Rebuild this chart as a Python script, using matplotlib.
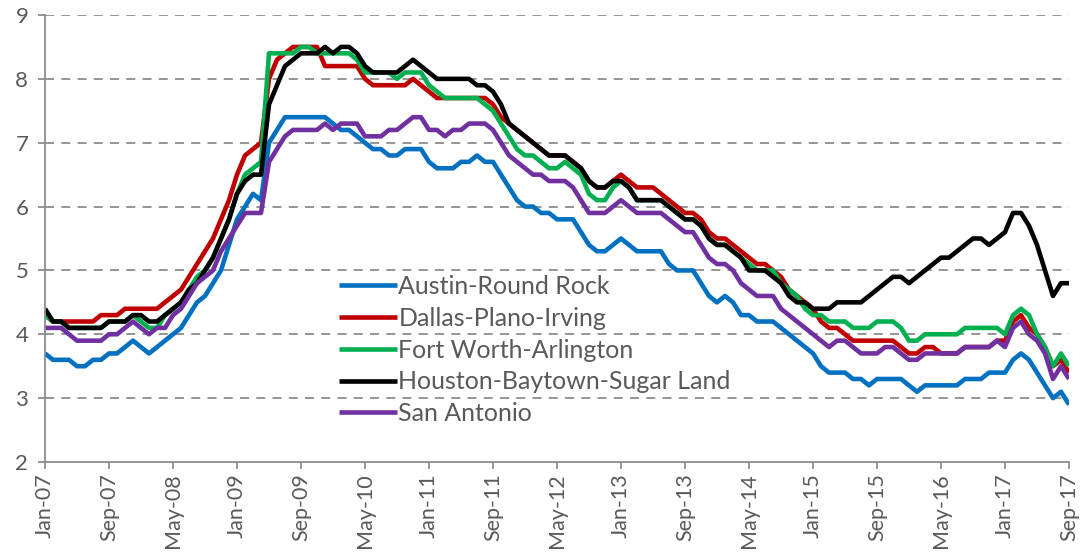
import matplotlib
matplotlib.use("Agg")
import matplotlib.pyplot as plt
import numpy as np

months = ["Jan", "Feb", "Mar", "Apr", "May", "Jun", "Jul", "Aug", "Sep", "Oct", "Nov", "Dec"]
dates = [f"{months[i % 12]}-{7 + i // 12:02d}" for i in range(129)]

austin = [3.7, 3.6, 3.6, 3.6, 3.5, 3.5, 3.6, 3.6, 3.7, 3.7, 3.8, 3.9, 3.8, 3.7, 3.8, 3.9,
          4.0, 4.1, 4.3, 4.5, 4.6, 4.8, 5.0, 5.4, 5.8, 6.0, 6.2, 6.1, 7.0, 7.2, 7.4, 7.4,
          7.4, 7.4, 7.4, 7.4, 7.3, 7.2, 7.2, 7.1, 7.0, 6.9, 6.9, 6.8, 6.8, 6.9, 6.9, 6.9,
          6.7, 6.6, 6.6, 6.6, 6.7, 6.7, 6.8, 6.7, 6.7, 6.5, 6.3, 6.1, 6.0, 6.0, 5.9, 5.9,
          5.8, 5.8, 5.8, 5.6, 5.4, 5.3, 5.3, 5.4, 5.5, 5.4, 5.3, 5.3, 5.3, 5.3, 5.1, 5.0,
          5.0, 5.0, 4.8, 4.6, 4.5, 4.6, 4.5, 4.3, 4.3, 4.2, 4.2, 4.2, 4.1, 4.0, 3.9, 3.8,
          3.7, 3.5, 3.4, 3.4, 3.4, 3.3, 3.3, 3.2, 3.3, 3.3, 3.3, 3.3, 3.2, 3.1, 3.2, 3.2,
          3.2, 3.2, 3.2, 3.3, 3.3, 3.3, 3.4, 3.4, 3.4, 3.6, 3.7, 3.6, 3.4, 3.2, 3.0, 3.1,
          2.9]

dallas = [4.3, 4.2, 4.2, 4.2, 4.2, 4.2, 4.2, 4.3, 4.3, 4.3, 4.4, 4.4, 4.4, 4.4, 4.4, 4.5,
          4.6, 4.7, 4.9, 5.1, 5.3, 5.5, 5.8, 6.1, 6.5, 6.8, 6.9, 7.0, 8.0, 8.3, 8.4, 8.5,
          8.5, 8.5, 8.5, 8.2, 8.2, 8.2, 8.2, 8.2, 8.0, 7.9, 7.9, 7.9, 7.9, 7.9, 8.0, 7.9,
          7.8, 7.7, 7.7, 7.7, 7.7, 7.7, 7.7, 7.7, 7.6, 7.4, 7.3, 7.2, 7.1, 7.0, 6.9, 6.8,
          6.8, 6.8, 6.7, 6.6, 6.4, 6.3, 6.3, 6.4, 6.5, 6.4, 6.3, 6.3, 6.3, 6.2, 6.1, 6.0,
          5.9, 5.9, 5.8, 5.6, 5.5, 5.5, 5.4, 5.3, 5.2, 5.1, 5.1, 5.0, 4.9, 4.7, 4.6, 4.5,
          4.4, 4.2, 4.1, 4.1, 4.0, 3.9, 3.9, 3.9, 3.9, 3.9, 3.9, 3.8, 3.7, 3.7, 3.8, 3.8,
          3.7, 3.7, 3.7, 3.8, 3.8, 3.8, 3.8, 3.9, 3.9, 4.2, 4.3, 4.1, 4.0, 3.8, 3.5, 3.6,
          3.4]

fort_worth = [4.3, 4.2, 4.2, 4.1, 4.1, 4.1, 4.1, 4.1, 4.2, 4.2, 4.2, 4.3, 4.2, 4.1, 4.1, 4.3,
              4.4, 4.5, 4.7, 4.9, 5.0, 5.2, 5.5, 5.8, 6.2, 6.5, 6.6, 6.7, 8.4, 8.4, 8.4, 8.4,
              8.5, 8.5, 8.4, 8.4, 8.4, 8.4, 8.4, 8.3, 8.1, 8.1, 8.1, 8.1, 8.0, 8.1, 8.1, 8.1,
              7.9, 7.8, 7.7, 7.7, 7.7, 7.7, 7.7, 7.6, 7.5, 7.3, 7.1, 6.9, 6.8, 6.8, 6.7, 6.6,
              6.6, 6.7, 6.6, 6.5, 6.2, 6.1, 6.1, 6.3, 6.4, 6.3, 6.1, 6.1, 6.1, 6.1, 6.0, 5.9,
              5.8, 5.8, 5.7, 5.5, 5.4, 5.4, 5.3, 5.2, 5.1, 5.0, 5.0, 5.0, 4.8, 4.7, 4.6, 4.4,
              4.3, 4.3, 4.2, 4.2, 4.2, 4.1, 4.1, 4.1, 4.2, 4.2, 4.2, 4.1, 3.9, 3.9, 4.0, 4.0,
              4.0, 4.0, 4.0, 4.1, 4.1, 4.1, 4.1, 4.1, 4.0, 4.3, 4.4, 4.3, 4.0, 3.8, 3.5, 3.7,
              3.5]

houston = [4.4, 4.2, 4.2, 4.1, 4.1, 4.1, 4.1, 4.1, 4.2, 4.2, 4.2, 4.3, 4.3, 4.2, 4.2, 4.3,
           4.4, 4.5, 4.7, 4.8, 5.0, 5.2, 5.5, 5.8, 6.2, 6.4, 6.5, 6.5, 7.6, 7.9, 8.2, 8.3,
           8.4, 8.4, 8.4, 8.5, 8.4, 8.5, 8.5, 8.4, 8.2, 8.1, 8.1, 8.1, 8.1, 8.2, 8.3, 8.2,
           8.1, 8.0, 8.0, 8.0, 8.0, 8.0, 7.9, 7.9, 7.8, 7.6, 7.3, 7.2, 7.1, 7.0, 6.9, 6.8,
           6.8, 6.8, 6.7, 6.6, 6.4, 6.3, 6.3, 6.4, 6.4, 6.3, 6.1, 6.1, 6.1, 6.1, 6.0, 5.9,
           5.8, 5.8, 5.7, 5.5, 5.4, 5.4, 5.3, 5.2, 5.0, 5.0, 5.0, 4.9, 4.8, 4.6, 4.5, 4.5,
           4.4, 4.4, 4.4, 4.5, 4.5, 4.5, 4.5, 4.6, 4.7, 4.8, 4.9, 4.9, 4.8, 4.9, 5.0, 5.1,
           5.2, 5.2, 5.3, 5.4, 5.5, 5.5, 5.4, 5.5, 5.6, 5.9, 5.9, 5.7, 5.4, 5.0, 4.6, 4.8,
           4.8]

san_antonio = [4.1, 4.1, 4.1, 4.0, 3.9, 3.9, 3.9, 3.9, 4.0, 4.0, 4.1, 4.2, 4.1, 4.0, 4.1, 4.1,
               4.3, 4.4, 4.6, 4.8, 4.9, 5.0, 5.3, 5.5, 5.7, 5.9, 5.9, 5.9, 6.7, 6.9, 7.1, 7.2,
               7.2, 7.2, 7.2, 7.3, 7.2, 7.3, 7.3, 7.3, 7.1, 7.1, 7.1, 7.2, 7.2, 7.3, 7.4, 7.4,
               7.2, 7.2, 7.1, 7.2, 7.2, 7.3, 7.3, 7.3, 7.2, 7.0, 6.8, 6.7, 6.6, 6.5, 6.5, 6.4,
               6.4, 6.4, 6.3, 6.1, 5.9, 5.9, 5.9, 6.0, 6.1, 6.0, 5.9, 5.9, 5.9, 5.9, 5.8, 5.7,
               5.6, 5.6, 5.4, 5.2, 5.1, 5.1, 5.0, 4.8, 4.7, 4.6, 4.6, 4.6, 4.4, 4.3, 4.2, 4.1,
               4.0, 3.9, 3.8, 3.9, 3.9, 3.8, 3.7, 3.7, 3.7, 3.8, 3.8, 3.7, 3.6, 3.6, 3.7, 3.7,
               3.7, 3.7, 3.7, 3.8, 3.8, 3.8, 3.8, 3.9, 3.8, 4.1, 4.2, 4.0, 3.9, 3.7, 3.3, 3.5,
               3.3]

series_names = ["Austin-Round Rock", "Dallas-Plano-Irving", "Fort Worth-Arlington",
                "Houston-Baytown-Sugar Land", "San Antonio"]
series_values = [austin, dallas, fort_worth, houston, san_antonio]
colors = ["#0070C0", "#C00000", "#00B050", "#000000", "#7030A0"]

y_ticks = [2, 3, 4, 5, 6, 7, 8, 9]
tick_step = 8

plt.rcParams["font.family"] = ["Lato", "DejaVu Sans"]
text_color = "#595959"

fig = plt.figure(figsize=(10.86, 5.54), dpi=100)
ax = fig.add_axes([45 / 1086, 92 / 554, (1069 - 45) / 1086, (539 - 92) / 554])

x = np.arange(len(dates))
for name, vals, c in zip(series_names, series_values, colors):
    ax.plot(x, vals, color=c, lw=3.3, label=name, solid_joinstyle="round", solid_capstyle="butt")

ax.set_xlim(0, len(dates) - 1)
ax.set_ylim(2, 9)
ax.set_yticks(y_ticks)
ax.set_yticklabels([str(v) for v in y_ticks], fontsize=16, color=text_color)
ax.set_xticks(x[::tick_step])
ax.set_xticklabels(dates[::tick_step], rotation=90, fontsize=15.5, color=text_color)

for v in y_ticks[1:]:
    ax.axhline(v, color="#8C8C8C", lw=1.3, ls=(0, (5, 4)), zorder=0)

for s in ["top", "right"]:
    ax.spines[s].set_visible(False)
for s in ["left", "bottom"]:
    ax.spines[s].set_color("#8C8C8C")
    ax.spines[s].set_linewidth(1.3)
ax.tick_params(axis="x", direction="out", length=5, color="#8C8C8C", width=1.3, pad=3)
ax.tick_params(axis="y", direction="out", length=5, color="#8C8C8C", width=1.3, pad=7)

leg = ax.legend(loc="upper left", bbox_to_anchor=(339 / 1086, 1 - 275 / 554),
                bbox_transform=fig.transFigure, frameon=False, fontsize=18,
                handlelength=2.3, handletextpad=0.08, labelspacing=0.35, borderpad=0,
                borderaxespad=0)
for t in leg.get_texts():
    t.set_color(text_color)

fig.savefig("out.png", dpi=100)
